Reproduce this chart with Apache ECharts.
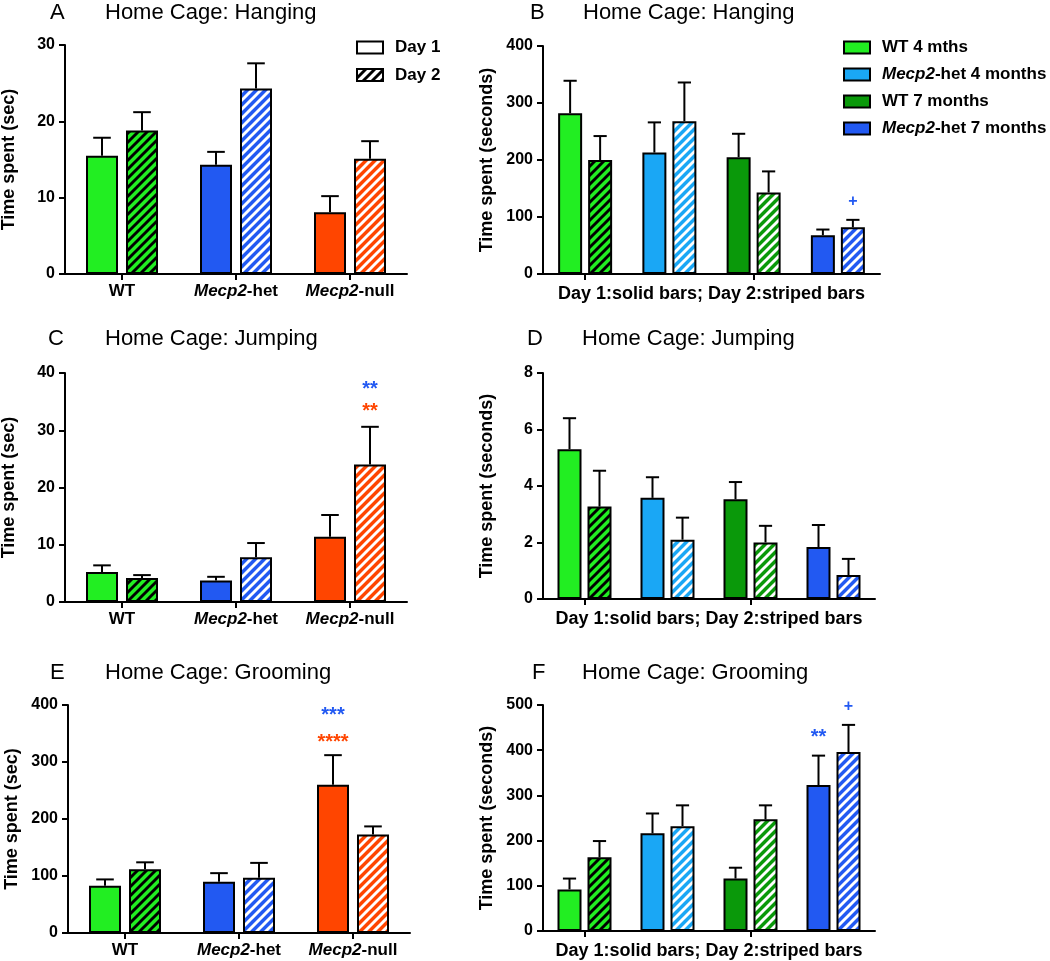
<!DOCTYPE html>
<html><head><meta charset="utf-8">
<script src="https://cdn.jsdelivr.net/npm/echarts@6/dist/echarts.min.js"></script>
<style>html,body{margin:0;padding:0;background:#fff}#c{width:1050px;height:961px}</style>
</head><body><div id="c"></div>
<script>
// ---------------- data ----------------
const genotypes = ['WT', 'Mecp2-het', 'Mecp2-null'];
const ageGroups = ['WT 4 mths', 'Mecp2-het 4 months', 'WT 7 months', 'Mecp2-het 7 months'];
const dayNames = ['Day 1', 'Day 2'];

// A: Home Cage Hanging (genotype)
const hangGenoDay1 = [15.5, 14.3, 8.1];
const hangGenoDay1Sem = [2.35, 1.7, 2.1];
const hangGenoDay2 = [18.8, 24.3, 15.1];
const hangGenoDay2Sem = [2.4, 3.3, 2.3];
// B: Home Cage Hanging (age groups)
const hangAgeDay1 = [282, 213, 205, 68];
const hangAgeDay1Sem = [57, 53, 41, 10];
const hangAgeDay2 = [200, 268, 143, 82];
const hangAgeDay2Sem = [42, 68, 37, 13];
// C: Home Cage Jumping (genotype)
const jumpGenoDay1 = [5.25, 3.75, 11.4];
const jumpGenoDay1Sem = [1.15, 0.65, 3.8];
const jumpGenoDay2 = [4.2, 7.8, 24.0];
const jumpGenoDay2Sem = [0.5, 2.5, 6.6];
// D: Home Cage Jumping (age groups)
const jumpAgeDay1 = [5.3, 3.58, 3.53, 1.84];
const jumpAgeDay1Sem = [1.1, 0.73, 0.61, 0.78];
const jumpAgeDay2 = [3.27, 2.1, 2.0, 0.85];
const jumpAgeDay2Sem = [1.27, 0.78, 0.59, 0.57];
// E: Home Cage Grooming (genotype)
const groomGenoDay1 = [83, 90, 260];
const groomGenoDay1Sem = [11, 15, 52];
const groomGenoDay2 = [112, 97, 173];
const groomGenoDay2Sem = [12, 26, 14];
// F: Home Cage Grooming (age groups)
const groomAgeDay1 = [92, 216, 116, 323];
const groomAgeDay1Sem = [24, 44, 24, 65];
const groomAgeDay2 = [163, 232, 247, 396];
const groomAgeDay2Sem = [36, 46, 31, 60];

// significance marks: category, day (0/1), y value, text, colour key
const hangAgeMarks = [{cat: 3, day: 1, y: 127, text: '+', c: 'blue'}];
const jumpGenoMarks = [{cat: 2, day: 1, y: 37.9, text: '**', c: 'blue'}, {cat: 2, day: 1, y: 33.9, text: '**', c: 'red'}];
const groomGenoMarks = [{cat: 2, day: 0, y: 389, text: '***', c: 'blue'}, {cat: 2, day: 0, y: 341, text: '****', c: 'red'}];
const groomAgeMarks = [{cat: 3, day: 0, y: 437, text: '**', c: 'blue'}, {cat: 3, day: 1, y: 497, text: '+', c: 'blue'}];

// ---------------- styles ----------------
const FONT = '"Liberation Sans", Arial, Helvetica, sans-serif';
const C = {green: '#22EE22', blue: '#2259F2', red: '#FF4500', lightblue: '#1AA7F5', darkgreen: '#0A990A'};
const genoColors = [C.green, C.blue, C.red];
const genoStripe = ['#000', '#fff', '#fff'];
const ageColors = [C.green, C.lightblue, C.darkgreen, C.blue];
const ageStripe = ['#000', '#fff', '#fff', '#fff'];

const patCache = {};
function stripes(bg, fg) {
  const key = bg + fg;
  if (patCache[key]) return patCache[key];
  const s = 9;
  const cv = document.createElement('canvas');
  cv.width = s; cv.height = s;
  const g = cv.getContext('2d');
  g.fillStyle = bg; g.fillRect(0, 0, s, s);
  g.strokeStyle = fg; g.lineWidth = 2.9; g.lineCap = 'square';
  g.beginPath();
  g.moveTo(-1, s + 1); g.lineTo(s + 1, -1);
  g.moveTo(-2, 2); g.lineTo(2, -2);
  g.moveTo(s - 2, s + 2); g.lineTo(s + 2, s - 2);
  g.stroke();
  patCache[key] = {image: cv, repeat: 'repeat'};
  return patCache[key];
}

const panels = [
  {letter: 'A', title: 'Home Cage: Hanging', kind: 'geno', grid: {left: 65, top: 45, width: 342, height: 229}, max: 30, interval: 10,
   d1: hangGenoDay1, s1: hangGenoDay1Sem, d2: hangGenoDay2, s2: hangGenoDay2Sem, marks: [], lx: 50, tx: 105, ty: 2},
  {letter: 'B', title: 'Home Cage: Hanging', kind: 'age', grid: {left: 543, top: 46, width: 337, height: 228}, max: 400, interval: 100,
   d1: hangAgeDay1, s1: hangAgeDay1Sem, d2: hangAgeDay2, s2: hangAgeDay2Sem, marks: hangAgeMarks, lx: 530, tx: 583, ty: 2},
  {letter: 'C', title: 'Home Cage: Jumping', kind: 'geno', grid: {left: 65, top: 373, width: 342, height: 229}, max: 40, interval: 10,
   d1: jumpGenoDay1, s1: jumpGenoDay1Sem, d2: jumpGenoDay2, s2: jumpGenoDay2Sem, marks: jumpGenoMarks, lx: 48, tx: 105, ty: 328},
  {letter: 'D', title: 'Home Cage: Jumping', kind: 'age', grid: {left: 543, top: 373, width: 332, height: 226}, max: 8, interval: 2,
   d1: jumpAgeDay1, s1: jumpAgeDay1Sem, d2: jumpAgeDay2, s2: jumpAgeDay2Sem, marks: [], lx: 527, tx: 582, ty: 328},
  {letter: 'E', title: 'Home Cage: Grooming', kind: 'geno', grid: {left: 68, top: 705, width: 342, height: 228}, max: 400, interval: 100,
   d1: groomGenoDay1, s1: groomGenoDay1Sem, d2: groomGenoDay2, s2: groomGenoDay2Sem, marks: groomGenoMarks, lx: 50, tx: 105, ty: 662},
  {letter: 'F', title: 'Home Cage: Grooming', kind: 'age', grid: {left: 543, top: 705, width: 332, height: 226}, max: 500, interval: 100,
   d1: groomAgeDay1, s1: groomAgeDay1Sem, d2: groomAgeDay2, s2: groomAgeDay2Sem, marks: groomAgeMarks, lx: 532, tx: 582, ty: 662}
];

const richLabel = {
  i: {fontStyle: 'italic', fontWeight: 'bold', fontSize: 17, color: '#000', fontFamily: FONT},
  b: {fontWeight: 'bold', fontSize: 17, color: '#000', fontFamily: FONT}
};
function mecpFmt(v) {
  return v.startsWith('Mecp2') ? '{i|Mecp2}{b|' + v.slice(5) + '}' : '{b|' + v + '}';
}

const grids = [], xAxes = [], yAxes = [], series = [], titles = [];
panels.forEach((p, pi) => {
  const geno = p.kind === 'geno';
  const bw = geno ? 32 : 24;
  const gap = geno ? 8 : 6;
  const cats = geno ? genotypes : ageGroups;
  grids.push(Object.assign({outerBoundsMode: 'none', containLabel: false}, p.grid));
  xAxes.push({
    type: 'category', gridIndex: pi, data: cats,
    axisLine: {show: true, lineStyle: {color: '#000', width: 2}},
    axisTick: {show: true, alignWithLabel: true, length: 6, lineStyle: {color: '#000', width: 2}},
    axisLabel: geno ? {show: true, margin: 9, interval: 0, formatter: mecpFmt, rich: richLabel} : {show: false},
    splitLine: {show: false},
    name: geno ? '' : 'Day 1:solid bars; Day 2:striped bars',
    nameLocation: 'middle', nameGap: 11,
    nameTextStyle: {fontSize: 18, fontWeight: 'bold', color: '#000', fontFamily: FONT}
  });
  yAxes.push({
    type: 'value', gridIndex: pi, min: 0, max: p.max, interval: p.interval,
    axisLine: {show: true, lineStyle: {color: '#000', width: 2}},
    axisTick: {show: true, length: 6, lineStyle: {color: '#000', width: 2}},
    axisLabel: {margin: 10, fontSize: 16, fontWeight: 'bold', color: '#000', fontFamily: FONT},
    splitLine: {show: false},
    name: geno ? 'Time spent (sec)' : 'Time spent (seconds)',
    nameLocation: 'middle', nameGap: 47,
    nameTextStyle: {fontSize: 18, fontWeight: 'bold', color: '#000', fontFamily: FONT}
  });
  titles.push({text: p.letter, left: p.lx, top: p.ty, padding: 0,
    textStyle: {fontSize: 22, fontWeight: 'normal', color: '#000', fontFamily: FONT}});
  titles.push({text: p.title, left: p.tx, top: p.ty, padding: 0,
    textStyle: {fontSize: 22, fontWeight: 'normal', color: '#000', fontFamily: FONT}});

  const common = {type: 'bar', xAxisIndex: pi, yAxisIndex: pi, barWidth: bw, barGap: (gap / bw * 100) + '%',
    emphasis: {disabled: true}, animation: false};
  if (geno) {
    series.push(Object.assign({}, common, {
      name: dayNames[0],
      itemStyle: {color: '#fff', borderColor: '#000', borderWidth: 2},
      data: p.d1.map((v, k) => ({value: v, itemStyle: {color: genoColors[k], borderColor: '#000', borderWidth: 2}}))
    }));
    series.push(Object.assign({}, common, {
      name: dayNames[1],
      itemStyle: {color: stripes('#fff', '#000'), borderColor: '#000', borderWidth: 2},
      data: p.d2.map((v, k) => ({value: v, itemStyle: {color: stripes(genoColors[k], genoStripe[k]), borderColor: '#000', borderWidth: 2}}))
    }));
  } else {
    ageGroups.forEach((gname, g) => {
      series.push(Object.assign({}, common, {
        name: gname, stack: 'day1-' + pi,
        itemStyle: {color: ageColors[g], borderColor: '#000', borderWidth: 2},
        data: p.d1.map((v, k) => (k === g ? v : '-'))
      }));
    });
    ageGroups.forEach((gname, g) => {
      series.push(Object.assign({}, common, {
        name: gname, stack: 'day2-' + pi,
        itemStyle: {color: stripes(ageColors[g], ageStripe[g]), borderColor: '#000', borderWidth: 2},
        data: p.d2.map((v, k) => (k === g ? v : '-'))
      }));
    });
  }
  // error bars (mean to mean + SEM, cap on top)
  [[p.d1, p.s1, -1], [p.d2, p.s2, 1]].forEach(([means, sems, sign], di) => {
    series.push({
      type: 'custom', name: 'err-' + p.letter + di, xAxisIndex: pi, yAxisIndex: pi, z: 3, silent: true, animation: false,
      data: means.map((m, i) => [i, m, m + sems[i]]),
      renderItem(params, api) {
        const a = api.coord([api.value(0), api.value(1)]);
        const b = api.coord([api.value(0), api.value(2)]);
        const x = a[0] + sign * (bw + gap) / 2;
        const cw = bw * 0.55;
        return {type: 'group', children: [
          {type: 'line', shape: {x1: x, y1: a[1], x2: x, y2: b[1]}, style: {stroke: '#000', lineWidth: 2}},
          {type: 'line', shape: {x1: x - cw / 2, y1: b[1], x2: x + cw / 2, y2: b[1]}, style: {stroke: '#000', lineWidth: 2}}
        ]};
      }
    });
  });
  // significance marks
  if (p.marks.length) {
    series.push({
      type: 'custom', name: 'sig-' + p.letter, xAxisIndex: pi, yAxisIndex: pi, z: 4, silent: true, animation: false,
      data: p.marks.map(m => [m.cat, m.y]),
      renderItem(params, api) {
        const m = p.marks[params.dataIndex];
        const pt = api.coord([api.value(0), api.value(1)]);
        const x = pt[0] + (m.day ? 1 : -1) * (bw + gap) / 2;
        const star = m.text.indexOf('*') >= 0;
        return {type: 'text', x: x, y: pt[1] + (star ? 4 : 0), style: {
          text: m.text, fill: C[m.c], align: 'center', verticalAlign: 'middle',
          font: 'bold ' + (star ? 20 : 16) + 'px ' + FONT}};
      }
    });
  }
});

const legendText = {fontSize: 17, fontWeight: 'bold', color: '#000', fontFamily: FONT, padding: [0, 0, 0, 7],
  rich: {i: {fontStyle: 'italic', fontWeight: 'bold', fontSize: 17, color: '#000', fontFamily: FONT}}};

const option = {
  animation: false,
  backgroundColor: '#fff',
  title: titles,
  grid: grids,
  xAxis: xAxes,
  yAxis: yAxes,
  legend: [
    {left: 356, top: 39, orient: 'vertical', icon: 'rect', itemWidth: 26, itemHeight: 12, itemGap: 10.5, padding: 0,
     selectedMode: false, textStyle: legendText,
     data: [
       {name: dayNames[0], itemStyle: {color: '#fff', borderColor: '#000', borderWidth: 2}},
       {name: dayNames[1], itemStyle: {color: stripes('#fff', '#000'), borderColor: '#000', borderWidth: 2}}
     ]},
    {left: 843, top: 39, orient: 'vertical', icon: 'rect', itemWidth: 26, itemHeight: 12, itemGap: 10, padding: 0,
     selectedMode: false, textStyle: legendText,
     formatter: n => (n.startsWith('Mecp2') ? '{i|Mecp2}' + n.slice(5) : n),
     data: ageGroups.map((n, g) => ({name: n, itemStyle: {color: ageColors[g], borderColor: '#000', borderWidth: 2}}))}
  ],
  series: series
};

const chart = echarts.init(document.getElementById('c'), null, {renderer: 'canvas'});
chart.setOption(option);
</script>
</body></html>
